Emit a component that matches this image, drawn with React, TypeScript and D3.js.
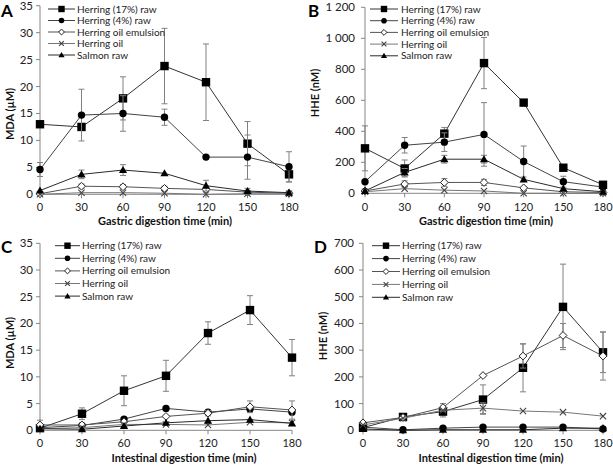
import React from 'react';
import * as d3 from 'd3';

const times = [0, 30, 60, 90, 120, 150, 180];
const seriesNames = ['Herring (17%) raw', 'Herring (4%) raw', 'Herring oil emulsion', 'Herring oil', 'Salmon raw'];

// Panel A – MDA gastric
const aH17 = [13.0, 12.5, 17.8, 23.8, 20.8, 9.4, 3.7];
const aH17Err = [0, 0, 4.0, 7.0, 7.1, 4.1, 1.4];
const aH4 = [4.6, 14.7, 15.0, 14.3, 6.9, 6.9, 5.1];
const aH4Err = [1.3, 4.8, 3.3, 1.5, 0, 4.1, 2.8];
const aEmul = [0.1, 1.5, 1.4, 1.1, 0.9, 0.4, 0.2];
const aEmulErr = [0, 0.4, 0.4, 0.4, 0, 0, 0];
const aOil = [0.0, 0.3, 0.3, 0.2, 0.0, 0.1, 0.1];
const aOilErr = [0, 0, 0, 0, 0, 0, 0];
const aSalm = [0.7, 3.7, 4.5, 3.9, 1.6, 0.6, 0.3];
const aSalmErr = [0, 0.8, 1.0, 0, 1.0, 0.5, 0];

// Panel B – HHE gastric
const bH17 = [290, 160, 385, 840, 585, 165, 55];
const bH17Err = [145, 55, 40, 165, 0, 0, 0];
const bH4 = [75, 310, 330, 380, 205, 75, 40];
const bH4Err = [0, 50, 60, 205, 100, 35, 0];
const bEmul = [15, 60, 70, 70, 35, 10, 5];
const bEmulErr = [0, 20, 25, 20, 0, 0, 0];
const bOil = [10, 30, 20, 15, 0, 0, 0];
const bOilErr = [0, 0, 0, 0, 0, 0, 0];
const bSalm = [15, 135, 220, 220, 90, 30, 10];
const bSalmErr = [0, 25, 25, 25, 0, 0, 0];

// Panel C – MDA intestinal
const cH17 = [0.4, 3.1, 7.4, 10.2, 18.2, 22.5, 13.6];
const cH17Err = [0, 1.1, 2.8, 2.9, 2.1, 2.7, 3.4];
const cH4 = [0.5, 0.9, 2.1, 4.1, 3.4, 4.0, 3.4];
const cH4Err = [0, 0, 0, 0, 0, 0.4, 0];
const cEmul = [1.0, 1.0, 1.6, 2.6, 3.2, 4.4, 3.8];
const cEmulErr = [0.9, 0, 0, 0, 0.5, 1.1, 1.7];
const cOil = [0.3, 0.5, 1.1, 1.1, 1.0, 1.5, 1.4];
const cOilErr = [0, 0, 0, 0, 0, 0, 0];
const cSalm = [0.3, 0.2, 0.8, 1.4, 1.8, 2.0, 1.3];
const cSalmErr = [0, 0, 0, 0, 0, 0, 0];

// Panel D – HHE intestinal
const dH17 = [10, 50, 70, 115, 234, 462, 292];
const dH17Err = [0, 0, 20, 55, 90, 160, 76];
const dH4 = [12, 2, 8, 12, 12, 12, 5];
const dH4Err = [0, 0, 0, 0, 0, 0, 0];
const dEmul = [28, 48, 85, 205, 278, 355, 278];
const dEmulErr = [0, 0, 15, 0, 45, 45, 90];
const dOil = [20, 45, 75, 83, 72, 68, 53];
const dOilErr = [0, 0, 0, 20, 0, 0, 0];
const dSalm = [5, 0, 2, 2, 2, 8, 8];
const dSalmErr = [0, 0, 0, 0, 0, 0, 0];

const markers = ['square', 'circle', 'diamond', 'cross', 'triangle'];
const lineColors = ['#333333', '#444444', '#555555', '#777777', '#2a2a2a'];

const FONT = 'Lato, "Open Sans", sans-serif';
const spaceFmt = d3.formatLocale({ decimal: '.', thousands: '\u00a0', grouping: [3], currency: ['', ''] }).format(',');

function Marker({ type, cx, cy, s }: { type: string; cx: number; cy: number; s: number }) {
  if (type === 'square') return <rect x={cx - s} y={cy - s} width={2 * s} height={2 * s} fill="#000" />;
  if (type === 'circle') return <circle cx={cx} cy={cy} r={s} fill="#000" />;
  if (type === 'diamond') {
    const r = s * 1.05;
    return <path d={`M${cx},${cy - r}L${cx + r},${cy}L${cx},${cy + r}L${cx - r},${cy}Z`} fill="#fff" stroke="#222" strokeWidth={1} />;
  }
  if (type === 'cross') {
    const r = s * 0.85;
    return <path d={`M${cx - r},${cy - r}L${cx + r},${cy + r}M${cx - r},${cy + r}L${cx + r},${cy - r}`} stroke="#444" strokeWidth={1.1} fill="none" />;
  }
  const r = s * 1.1;
  return <path d={`M${cx},${cy - r}L${cx + r},${cy + r * 0.75}L${cx - r},${cy + r * 0.75}Z`} fill="#000" />;
}

type Cfg = {
  letter: string; lx: number; ly: number;
  x0: number; x1: number; yb: number; yt: number; yMax: number; yStep: number; fmt: (v: number) => string;
  yLabRight: number; xLabBase: number;
  yTitle: string; yTx: number; yTy: number;
  xTitle: string; xTx: number; xTy: number;
  legX0: number; legX1: number; legTx: number; legY0: number; legDy: number;
  series: number[][]; errs: number[][];
};

function Panel({ c }: { c: Cfg }) {
  const x = d3.scaleLinear().domain([0, 180]).range([c.x0, c.x1]);
  const y = d3.scaleLinear().domain([0, c.yMax]).range([c.yb, c.yt]);
  const yTicks = d3.range(0, c.yMax + c.yStep / 2, c.yStep);
  const line = d3.line<number>().x((_, i) => x(times[i])).y((d) => y(d));
  const axisCol = '#868686';
  return (
    <g>
      <text x={c.lx} y={c.ly} fontFamily={FONT} fontWeight="bold" fontSize={17} fill="#000">{c.letter}</text>
      {/* y axis */}
      <line x1={c.x0} x2={c.x0} y1={c.yb} y2={c.yt} stroke={axisCol} />
      {yTicks.map((t) => (
        <g key={t}>
          <line x1={c.x0 - 4} x2={c.x0} y1={y(t)} y2={y(t)} stroke={axisCol} />
          <text x={c.yLabRight} y={y(t)} dy="0.35em" textAnchor="end" fontFamily={FONT} fontSize={11.5} fill="#222">{c.fmt(t)}</text>
        </g>
      ))}
      {/* x axis */}
      <line x1={c.x0} x2={c.x1} y1={c.yb} y2={c.yb} stroke={axisCol} />
      {times.map((t) => (
        <g key={t}>
          <line x1={x(t)} x2={x(t)} y1={c.yb} y2={c.yb + 4} stroke={axisCol} />
          <text x={x(t)} y={c.xLabBase} textAnchor="middle" fontFamily={FONT} fontSize={11} fill="#222">{t}</text>
        </g>
      ))}
      <text x={c.xTx} y={c.xTy} textAnchor="middle" fontFamily={FONT} fontWeight="bold" fontSize={11} fill="#111">{c.xTitle}</text>
      <text transform={`translate(${c.yTx},${c.yTy}) rotate(-90)`} textAnchor="middle" fontFamily={FONT} fontWeight="bold" fontSize={11} fill="#111">{c.yTitle}</text>
      {/* series */}
      {c.series.map((vals, si) => (
        <g key={si}>
          {vals.map((v, i) => {
            const e = c.errs[si][i];
            if (!e) return null;
            const xx = x(times[i]);
            const lo = y(Math.max(0, v - e));
            const hi = y(v + e);
            return (
              <g key={i} stroke="#808080" strokeWidth={1}>
                <line x1={xx} x2={xx} y1={lo} y2={hi} />
                <line x1={xx - 3} x2={xx + 3} y1={lo} y2={lo} />
                <line x1={xx - 3} x2={xx + 3} y1={hi} y2={hi} />
              </g>
            );
          })}
          <path d={line(vals) || ''} fill="none" stroke={lineColors[si]} strokeWidth={1} />
          {vals.map((v, i) => (
            <Marker key={i} type={markers[si]} cx={x(times[i])} cy={y(v)} s={markers[si] === 'square' ? 4.2 : 3.7} />
          ))}
        </g>
      ))}
      {/* legend */}
      {seriesNames.map((n, si) => {
        const yy = c.legY0 + si * c.legDy;
        return (
          <g key={n}>
            <line x1={c.legX0} x2={c.legX1} y1={yy} y2={yy} stroke={lineColors[si]} strokeWidth={1} />
            <Marker type={markers[si]} cx={(c.legX0 + c.legX1) / 2} cy={yy} s={markers[si] === 'square' ? 3.2 : 2.8} />
            <text x={c.legTx} y={yy} dy="0.35em" fontFamily={FONT} fontSize={10} fill="#222">{n}</text>
          </g>
        );
      })}
    </g>
  );
}

const plain = (v: number) => String(v);

const panels: Cfg[] = [
  {
    letter: 'A', lx: 1, ly: 17, x0: 40, x1: 289, yb: 194.3, yt: 5.7, yMax: 35, yStep: 5, fmt: plain,
    yLabRight: 33, xLabBase: 211, yTitle: 'MDA (µM)', yTx: 14, yTy: 114,
    xTitle: 'Gastric digestion time (min)', xTx: 165, xTy: 225,
    legX0: 48, legX1: 75, legTx: 77, legY0: 9, legDy: 11.5,
    series: [aH17, aH4, aEmul, aOil, aSalm], errs: [aH17Err, aH4Err, aEmulErr, aOilErr, aSalmErr],
  },
  {
    letter: 'B', lx: 308, ly: 17, x0: 365, x1: 603, yb: 193.3, yt: 7.3, yMax: 1200, yStep: 200, fmt: (v) => spaceFmt(v),
    yLabRight: 355, xLabBase: 211, yTitle: 'HHE (nM)', yTx: 319, yTy: 93,
    xTitle: 'Gastric digestion time (min)', xTx: 486, xTy: 225,
    legX0: 370, legX1: 398, legTx: 401, legY0: 9, legDy: 11.7,
    series: [bH17, bH4, bEmul, bOil, bSalm], errs: [bH17Err, bH4Err, bEmulErr, bOilErr, bSalmErr],
  },
  {
    letter: 'C', lx: 1, ly: 253, x0: 40, x1: 292, yb: 430.3, yt: 243.3, yMax: 35, yStep: 5, fmt: plain,
    yLabRight: 33, xLabBase: 447, yTitle: 'MDA (µM)', yTx: 14, yTy: 343,
    xTitle: 'Intestinal digestion time (min)', xTx: 184, xTy: 461.5,
    legX0: 55, legX1: 80, legTx: 82, legY0: 245.7, legDy: 12.6,
    series: [cH17, cH4, cEmul, cOil, cSalm], errs: [cH17Err, cH4Err, cEmulErr, cOilErr, cSalmErr],
  },
  {
    letter: 'D', lx: 314, ly: 253, x0: 363, x1: 603, yb: 430.3, yt: 243.3, yMax: 700, yStep: 100, fmt: plain,
    yLabRight: 354, xLabBase: 447, yTitle: 'HHE (nM)', yTx: 327, yTy: 336,
    xTitle: 'Intestinal digestion time (min)', xTx: 491, xTy: 461.5,
    legX0: 372, legX1: 400, legTx: 402, legY0: 245.7, legDy: 12.9,
    series: [dH17, dH4, dEmul, dOil, dSalm], errs: [dH17Err, dH4Err, dEmulErr, dOilErr, dSalmErr],
  },
];

export default function App() {
  return (
    <svg width={613} height={465} style={{ position: 'fixed', left: 0, top: 0, background: '#fff' }}>
      <rect width={613} height={465} fill="#fff" />
      {panels.map((p) => (
        <Panel key={p.letter} c={p} />
      ))}
    </svg>
  );
}
